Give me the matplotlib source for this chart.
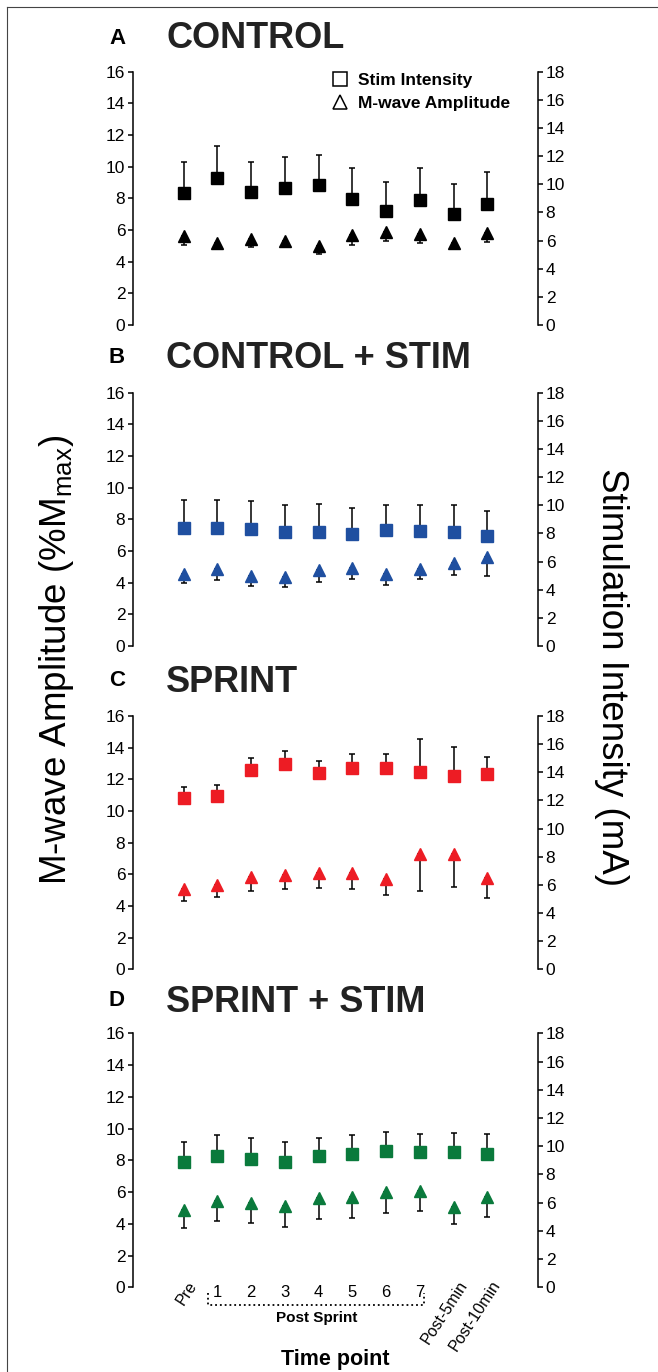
import numpy as np
import matplotlib.pyplot as plt
import matplotlib.transforms as mtransforms
from matplotlib.lines import Line2D

plt.rcParams['font.family'] = ['Liberation Sans', 'DejaVu Sans']
plt.rcParams['mathtext.fontset'] = 'custom'
plt.rcParams['mathtext.rm'] = 'Liberation Sans'

# -------- data --------
timepoints = ['Pre', '1', '2', '3', '4', '5', '6', '7', 'Post-5min', 'Post-10min']
panel_letters = ['A', 'B', 'C', 'D']
panel_titles = ['CONTROL', 'CONTROL + STIM', 'SPRINT', 'SPRINT + STIM']
panel_colors = ['black', '#1f4fa0', '#ed1c24', '#0a7a3c']

# stimulation intensity (mA, right axis): mean and SD
ctrl_stim = [9.41, 10.44, 9.45, 9.75, 9.95, 8.93, 8.12, 8.88, 7.86, 8.57]
ctrl_stim_sd = [2.2, 2.28, 2.1, 2.2, 2.12, 2.25, 2.06, 2.25, 2.16, 2.27]
ctrlstim_stim = [8.4, 8.4, 8.31, 8.1, 8.12, 7.95, 8.22, 8.15, 8.12, 7.82]
ctrlstim_stim_sd = [1.97, 1.97, 1.99, 1.95, 1.99, 1.86, 1.82, 1.88, 1.92, 1.8]
sprint_stim = [12.15, 12.34, 14.14, 14.59, 13.93, 14.28, 14.28, 14.02, 13.76, 13.86]
sprint_stim_sd = [0.78, 0.78, 0.86, 0.9, 0.9, 1.0, 1.05, 2.35, 2.04, 1.25]
sprintstim_stim = [8.91, 9.27, 9.1, 8.91, 9.27, 9.47, 9.66, 9.57, 9.6, 9.43]
sprintstim_stim_sd = [1.37, 1.53, 1.46, 1.37, 1.34, 1.3, 1.37, 1.32, 1.33, 1.4]

# M-wave amplitude (%Mmax, left axis): mean and SD
ctrl_mwave = [5.62, 5.2, 5.43, 5.33, 5.01, 5.68, 5.85, 5.75, 5.2, 5.83]
ctrl_mwave_sd = [0.59, 0.42, 0.48, 0.25, 0.55, 0.63, 0.52, 0.59, 0.25, 0.57]
ctrlstim_mwave = [4.55, 4.84, 4.42, 4.34, 4.82, 4.95, 4.57, 4.88, 5.26, 5.64]
ctrlstim_mwave_sd = [0.59, 0.67, 0.63, 0.59, 0.78, 0.72, 0.74, 0.63, 0.76, 1.2]
sprint_mwave = [5.05, 5.33, 5.85, 5.94, 6.06, 6.06, 5.68, 7.26, 7.26, 5.75]
sprint_mwave_sd = [0.76, 0.76, 0.88, 0.87, 0.94, 1.01, 1.01, 2.29, 2.04, 1.24]
sprintstim_mwave = [4.87, 5.46, 5.34, 5.13, 5.61, 5.67, 6.01, 6.09, 5.08, 5.71]
sprintstim_mwave_sd = [1.11, 1.26, 1.26, 1.35, 1.28, 1.3, 1.3, 1.3, 1.11, 1.26]

stim_all = [ctrl_stim, ctrlstim_stim, sprint_stim, sprintstim_stim]
stim_sd_all = [ctrl_stim_sd, ctrlstim_stim_sd, sprint_stim_sd, sprintstim_stim_sd]
mwave_all = [ctrl_mwave, ctrlstim_mwave, sprint_mwave, sprintstim_mwave]
mwave_sd_all = [ctrl_mwave_sd, ctrlstim_mwave_sd, sprint_mwave_sd, sprintstim_mwave_sd]

# -------- layout (pixels) --------
W, H = 658, 1372
fig = plt.figure(figsize=(W / 100, H / 100), dpi=100)

ax_left, ax_right = 133, 538
panel_rows = [(71.7, 325), (392.7, 646), (716, 969.3), (1033.3, 1287.3)]
letter_y = [38, 358, 681, 1001]

x = np.arange(len(timepoints))

for i in range(4):
    top, bot = panel_rows[i]
    ax = fig.add_axes([ax_left / W, 1 - bot / H, (ax_right - ax_left) / W, (bot - top) / H])
    ax2 = ax.twinx()
    c = panel_colors[i]

    ax.set_xlim(-1.5, 10.5)
    ax.set_ylim(0, 16)
    ax2.set_ylim(0, 18)
    ax.set_yticks(range(0, 17, 2))
    ax2.set_yticks(range(0, 19, 2))
    for s in ['top', 'right', 'bottom']:
        ax.spines[s].set_visible(False)
    for s in ['top', 'left', 'bottom']:
        ax2.spines[s].set_visible(False)
    ax.spines['left'].set_linewidth(1.1)
    ax2.spines['right'].set_linewidth(1.1)
    ax.tick_params(axis='y', labelsize=12.5, length=3.5, width=1.1, pad=2)
    ax2.tick_params(axis='y', labelsize=12.5, length=3.5, width=1.1, pad=2)
    ax.tick_params(axis='x', bottom=False, labelbottom=False)
    ax2.tick_params(axis='x', bottom=False, labelbottom=False)

    m = np.array(mwave_all[i])
    msd = np.array(mwave_sd_all[i])
    ax.errorbar(x, m, yerr=[msd, np.zeros_like(msd)], fmt='^', color=c, mec=c,
                ms=8.5, ecolor='black', elinewidth=1.1, capsize=2.5, capthick=1.1)

    st = np.array(stim_all[i])
    ssd = np.array(stim_sd_all[i])
    ax2.errorbar(x, st, yerr=[np.zeros_like(ssd), ssd], fmt='s', color=c, mec=c,
                 ms=9, ecolor='black', elinewidth=1.1, capsize=2.5, capthick=1.1)

    fig.text(117 / W, 1 - letter_y[i] / H, panel_letters[i], ha='center', va='center',
             fontsize=16, fontweight='bold')
    fig.text(166 / W, 1 - (letter_y[i] + 1) / H, panel_titles[i], ha='left', va='center',
             fontsize=26, fontweight='bold', color='#222222')

    if i == 0:
        handles = [Line2D([], [], marker='s', ls='none', mfc='none', mec='black', ms=10, mew=1.1),
                   Line2D([], [], marker='^', ls='none', mfc='none', mec='black', ms=10, mew=1.1)]
        ax2.legend(handles, ['Stim Intensity', 'M-wave Amplitude'], loc='center left',
                   bbox_to_anchor=(331 / W, 1 - 92 / H), bbox_transform=fig.transFigure,
                   frameon=False, prop={'weight': 'bold', 'size': 12.5}, handlelength=1.0,
                   handletextpad=0.55, labelspacing=0.42, borderpad=0, borderaxespad=0)

    if i == 3:
        trans = mtransforms.blended_transform_factory(ax.transData, ax.transAxes)
        for k, lab in enumerate(timepoints):
            if lab in ['Pre', 'Post-5min', 'Post-10min']:
                ax.text(k + 0.3, 0.02, lab, rotation=57, rotation_mode='anchor',
                        ha='right', va='center', fontsize=11.5, transform=trans)
            else:
                ax.text(k, -0.02, lab, ha='center', va='center', fontsize=12, transform=trans)
        ax.plot([0.71, 0.71, 7.13, 7.13], [-0.022, -0.07, -0.07, -0.022], ls=':',
                color='black', lw=1.3, transform=trans, clip_on=False)
        ax.text(3.93, -0.121, 'Post Sprint', ha='center', va='center', fontsize=11,
                fontweight='bold', transform=trans)

fig.text(335 / W, 1 - 1360 / H, 'Time point', ha='center', va='center',
         fontsize=15.5, fontweight='bold')
fig.text(57 / W, 1 - 660 / H, 'M-wave Amplitude (%M$_{\\mathrm{max}}$)', rotation=90,
         ha='center', va='center', fontsize=26.5)
fig.text(612 / W, 1 - 677 / H, 'Stimulation Intensity (mA)', rotation=270,
         ha='center', va='center', fontsize=26.5)

# frame lines on left and top
fig.add_artist(Line2D([7 / W, 7 / W], [0, 1 - 7 / H], color='#444444', lw=0.8))
fig.add_artist(Line2D([7 / W, 1], [1 - 7 / H, 1 - 7 / H], color='#444444', lw=0.8))

fig.savefig('out.png', dpi=100)
